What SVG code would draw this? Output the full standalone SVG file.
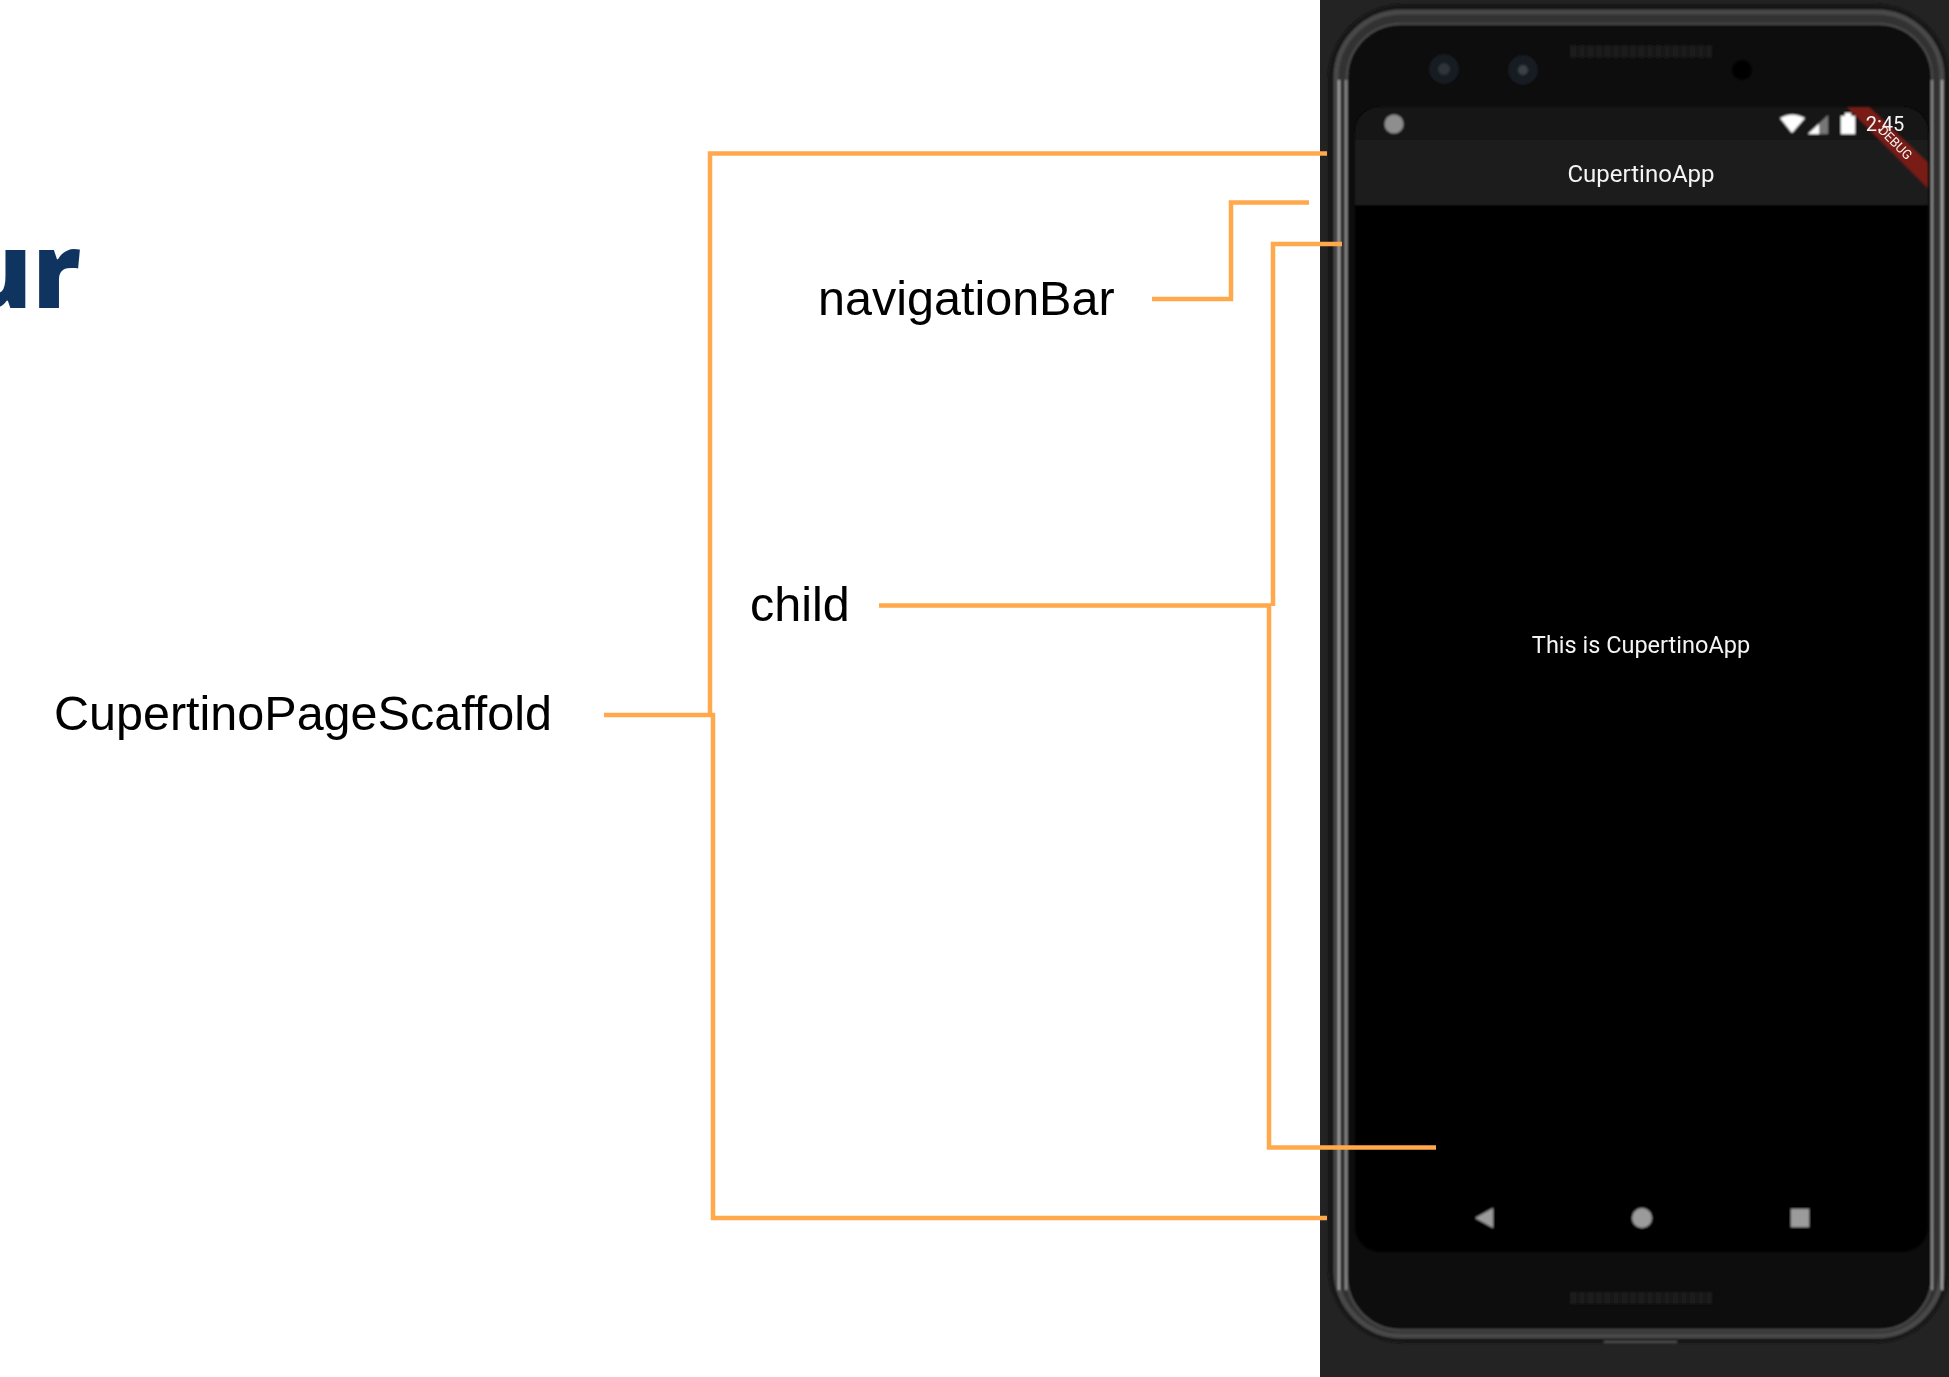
<svg xmlns="http://www.w3.org/2000/svg" width="1949" height="1377" viewBox="0 0 1949 1377">
<style>
.lbl{font-family:"Liberation Sans",Arial,sans-serif;font-size:48.5px;fill:#000}
.ui{font-family:Roboto,"Liberation Sans",sans-serif;fill:#f4f4f4}
.conn{fill:none;stroke:#ffa84c;stroke-width:4.500;stroke-linejoin:miter}
.nav{fill:#9b9b9b}
.spk{fill:none;stroke:#1e1e1e;stroke-width:12;stroke-dasharray:7 1.500}
</style>
<defs>
<filter id="soft" x="-5%" y="-5%" width="110%" height="110%"><feGaussianBlur stdDeviation="0.9"/></filter>
<filter id="fine" x="-5%" y="-20%" width="110%" height="140%"><feGaussianBlur stdDeviation="0.45"/></filter>
<filter id="frame" x="-5%" y="-5%" width="110%" height="110%"><feGaussianBlur stdDeviation="1.1"/></filter>
</defs>
<rect width="1949" height="1377" fill="#fff"/>
<g id="title"><text x="81" y="308" text-anchor="end" font-family="'Open Sans',sans-serif" font-weight="800" font-size="104" fill="#0f345f">ur</text></g>
<g id="phone">
<rect x="1320" y="0" width="629" height="1377" fill="#232323"/>
<g filter="url(#frame)">
<rect x="1328" y="4" width="622" height="1339" rx="76" fill="#141414"/>
<rect x="1336" y="12" width="606" height="1324" rx="66" fill="#333" stroke="#4a4a4a" stroke-width="5"/>
<rect x="1347" y="24" width="585" height="1306" rx="54" fill="#0a0a0a" stroke="#565656" stroke-width="1.500"/>
<path d="M1339 80V1290M1942 80V1290" stroke="#a8a8a8" stroke-width="2" fill="none"/>
<path d="M1346 80V1290M1932 80V1290" stroke="#8e8e8e" stroke-width="2" fill="none"/>
<path d="M1604 1342H1677" stroke="#666" stroke-width="1.500"/>
</g>
<g filter="url(#soft)">
<path d="M1355 1252V132a25 25 0 0 1 25-25H1903a25 25 0 0 1 25 25V1227a25 25 0 0 1-25 25H1380a25 25 0 0 1-25-25Z" fill="#000"/>
<path d="M1355 140V132a25 25 0 0 1 25-25H1903a25 25 0 0 1 25 25V140Z" fill="#131313"/>
<rect x="1355" y="140" width="573" height="65" fill="#1c1c1c"/>
<circle cx="1444" cy="69" r="15" fill="#141c22"/><circle cx="1444" cy="69" r="6" fill="#2e3539"/>
<circle cx="1523" cy="70" r="15" fill="#141c22"/><circle cx="1523" cy="70" r="5" fill="#3a4246"/>
<circle cx="1742" cy="70" r="10" fill="#000"/>
<path class="spk" d="M1570 51.500H1712"/>
<path class="spk" d="M1570 1298H1712"/>
<circle cx="1394" cy="124" r="9.500" fill="#8e8e8e"/>
<path d="M1780 118Q1792 111 1805 118L1792 133Z" fill="#fff"/>
<path d="M1808 134L1828 115V134Z" fill="#777"/><path d="M1808 134L1819 124V134Z" fill="#fff"/>
<path d="M1841 116H1845V113H1851V116H1855V134H1841Z" fill="#fff"/>
<polygon points="1847,107 1869,107 1928,163 1928,188" fill="#7a1a18"/>
<polygon class="nav" points="1475,1218 1493,1208 1493,1228"/>
<circle class="nav" cx="1642" cy="1218" r="10"/>
<rect class="nav" x="1791" y="1209" width="18" height="18"/>
</g>
<g filter="url(#fine)">
<text class="ui" x="1885" y="131" font-size="20" text-anchor="middle">2:45</text>
<text class="ui" x="1895" y="147" font-size="13" text-anchor="middle" transform="rotate(45 1895 143)">DEBUG</text>
<text class="ui" x="1641" y="182" font-size="24" text-anchor="middle">CupertinoApp</text>
<text class="ui" x="1641" y="653" font-size="23.500" text-anchor="middle">This is CupertinoApp</text>
</g>
</g>
<g id="label-scaffold"><text class="lbl" x="54" y="730">CupertinoPageScaffold</text></g>
<g id="label-navigationBar"><text class="lbl" x="818" y="315">navigationBar</text></g>
<g id="label-child"><text class="lbl" x="750" y="621">child</text></g>
<g id="connectors">
<path class="conn" d="M1327 153.500H710V714"/>
<path class="conn" d="M604 715H713V1218H1327"/>
<path class="conn" d="M1309 202.500H1231V299H1152"/>
<path class="conn" d="M1342 244H1273V606"/>
<path class="conn" d="M879 605.500H1269V1147.500H1436"/>
</g>
</svg>
